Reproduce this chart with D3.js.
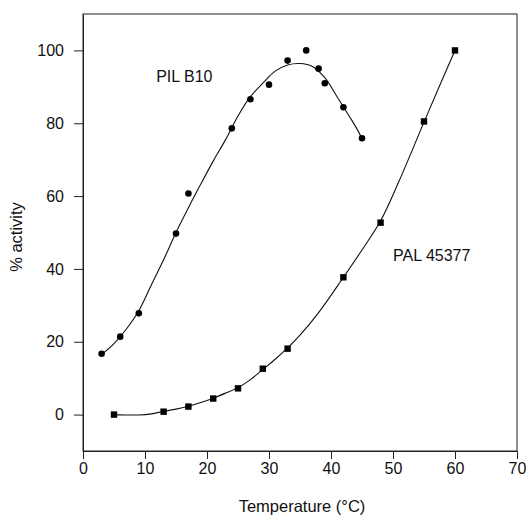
<!DOCTYPE html>
<html lang="en">
<head>
    <meta charset="UTF-8">
    <script src="https://d3js.org/d3.v7.min.js"></script>
    <title>Activity vs temperature</title>
    <style>
        body { margin: 0; background: #fff; }
        text { font-family: Arial, "Liberation Sans", sans-serif; fill: #111; }
    </style>
</head>
<body>
    <div id="app"></div>
    <script>
        // measured points
        const pilT = [3, 6, 9, 15, 17, 24, 27, 30, 33, 36, 38, 39, 42, 45];
        const pilY = [16.7, 21.4, 27.8, 49.7, 60.7, 78.6, 86.6, 90.6, 97.2, 100, 95, 91, 84.4, 75.9];
        const palT = [5, 13, 17, 21, 25, 29, 33, 42, 48, 55, 60];
        const palY = [0, 0.8, 2.2, 4.4, 7.2, 12.6, 18.1, 37.7, 52.7, 80.5, 100];

        // fitted curves
        const pilCurveT = [3, 5, 7, 9, 11, 13, 15, 17, 19, 21, 23, 25, 27, 29, 31, 33, 35, 37, 39, 41, 43, 44, 45];
        const pilCurveY = [16.5, 19.5, 23.5, 28.5, 35.5, 42.5, 50, 56.8, 63.3, 69.6, 75.5, 82, 87.3, 91, 94.3, 96, 96.4, 95.6, 92.5, 87.2, 81.8, 79, 75.8];
        const palCurveT = [5, 7, 9, 11, 13, 15, 17, 19, 21, 23, 25, 27, 29, 31, 33, 35, 38, 42, 45, 48, 51, 55, 58, 60];
        const palCurveY = [0, -0.1, -0.1, 0.2, 0.9, 1.5, 2.3, 3.3, 4.5, 5.9, 7.4, 9.6, 12.4, 15.2, 18.3, 21.8, 28, 37.7, 45.2, 53.2, 64.2, 80.3, 92.2, 100];

        const xTicks = [0, 10, 20, 30, 40, 50, 60, 70];
        const yTicks = [0, 20, 40, 60, 80, 100];

        const svg_width = 529, svg_height = 518;
        const plot_left = 83, plot_right = 517, plot_top = 14, plot_bottom = 451;

        const svg = d3.select('#app').append('svg')
            .attr('width', svg_width)
            .attr('height', svg_height);

        const x = d3.scaleLinear().domain([0, 70]).range([plot_left, plot_right]);
        const y = d3.scaleLinear().domain([-10, 110]).range([plot_bottom, plot_top]);

        // frame
        svg.append('rect')
            .attr('x', plot_left).attr('y', plot_top)
            .attr('width', plot_right - plot_left).attr('height', plot_bottom - plot_top)
            .attr('fill', 'none').attr('stroke', '#222').attr('stroke-width', 1);

        const xAxis = svg.append('g')
            .attr('transform', 'translate(0,' + plot_bottom + ')')
            .call(d3.axisBottom(x).tickValues(xTicks).tickSize(8).tickPadding(4).tickSizeOuter(0));
        const yAxis = svg.append('g')
            .attr('transform', 'translate(' + plot_left + ',0)')
            .call(d3.axisLeft(y).tickValues(yTicks).tickSize(9).tickPadding(10).tickSizeOuter(0));

        [xAxis, yAxis].forEach(function (g) {
            g.select('.domain').attr('stroke', '#222');
            g.selectAll('.tick line').attr('stroke', '#222');
            g.selectAll('.tick text')
                .attr('font-size', 16)
                .attr('font-family', 'Arial, "Liberation Sans", sans-serif')
                .attr('fill', '#111');
        });

        const line = d3.line()
            .x(function (d) { return x(d[0]); })
            .y(function (d) { return y(d[1]); })
            .curve(d3.curveCatmullRom);

        svg.append('path')
            .datum(d3.zip(pilCurveT, pilCurveY))
            .attr('d', line)
            .attr('fill', 'none').attr('stroke', '#111').attr('stroke-width', 1.1);
        svg.append('path')
            .datum(d3.zip(palCurveT, palCurveY))
            .attr('d', line)
            .attr('fill', 'none').attr('stroke', '#111').attr('stroke-width', 1.1);

        svg.append('g').selectAll('circle')
            .data(d3.zip(pilT, pilY))
            .enter().append('circle')
            .attr('cx', function (d) { return x(d[0]); })
            .attr('cy', function (d) { return y(d[1]); })
            .attr('r', 3.3)
            .attr('fill', '#000');

        svg.append('g').selectAll('rect')
            .data(d3.zip(palT, palY))
            .enter().append('rect')
            .attr('x', function (d) { return x(d[0]) - 3.2; })
            .attr('y', function (d) { return y(d[1]) - 3.2; })
            .attr('width', 6.4).attr('height', 6.4)
            .attr('fill', '#000');

        // series labels
        svg.append('text')
            .attr('x', x(11.8)).attr('y', y(91.2))
            .attr('font-size', 16)
            .text('PIL B10');
        svg.append('text')
            .attr('x', x(50)).attr('y', y(42.2))
            .attr('font-size', 16)
            .text('PAL 45377');

        // axis titles
        svg.append('text')
            .attr('x', (plot_left + plot_right) / 2 + 2).attr('y', 512)
            .attr('text-anchor', 'middle')
            .attr('font-size', 16.5)
            .text('Temperature (°C)');
        svg.append('text')
            .attr('transform', 'translate(22,237) rotate(-90)')
            .attr('text-anchor', 'middle')
            .attr('font-size', 16.5)
            .text('% activity');
    </script>
</body>
</html>
